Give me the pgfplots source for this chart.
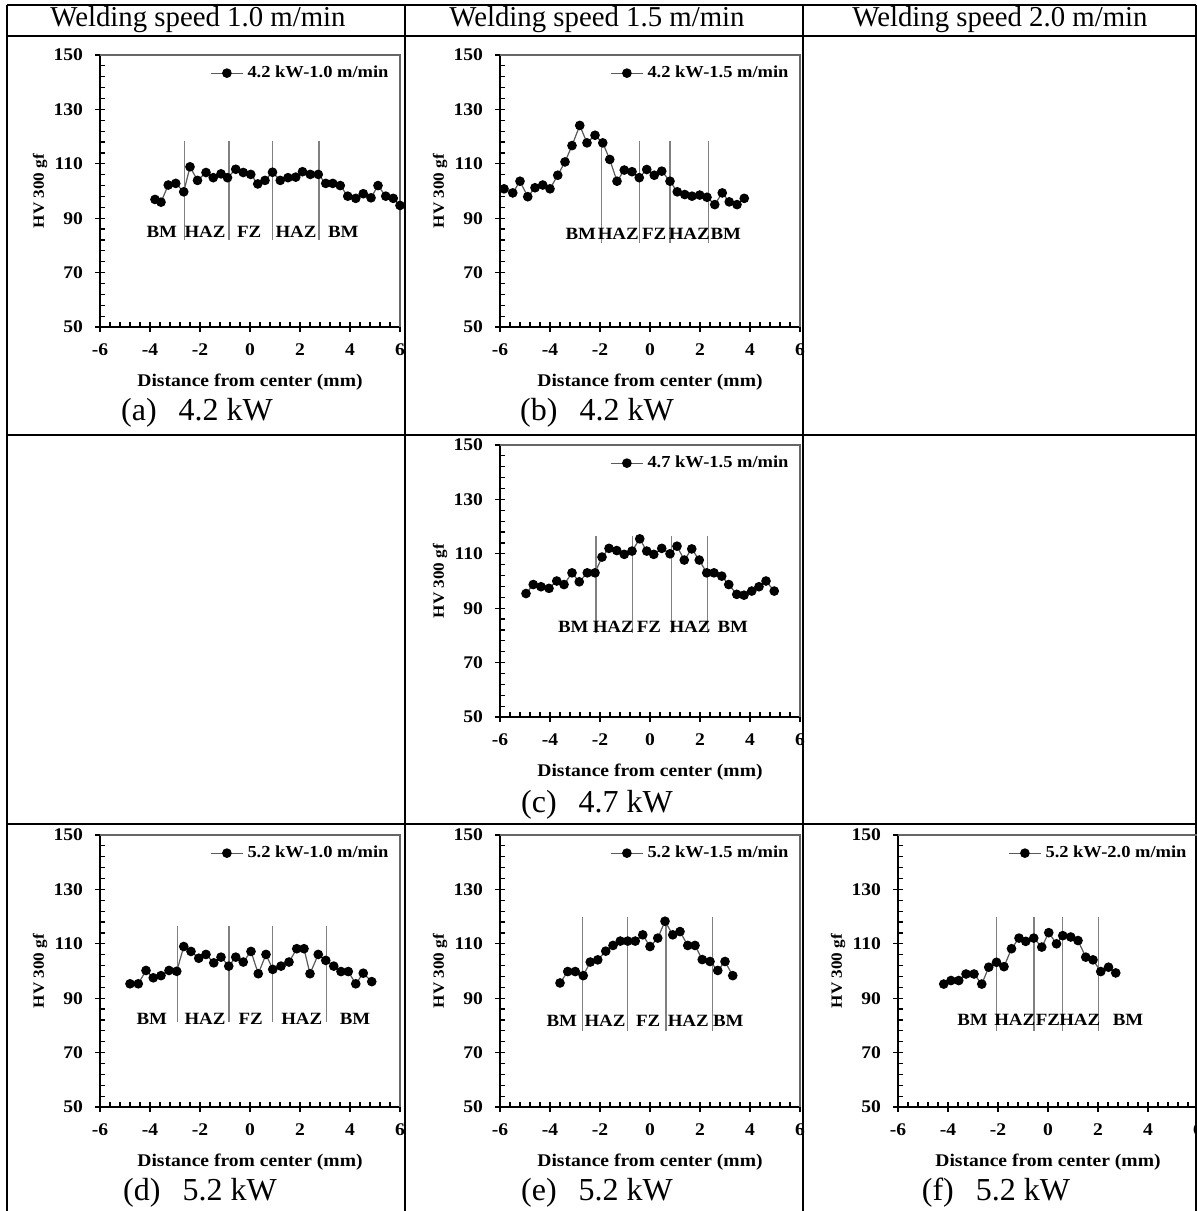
\documentclass[border=0pt]{standalone}
\usepackage{fontspec}
\setmainfont{Liberation Serif}
\newfontfamily\chartfont{Liberation Serif}[FakeStretch=1.1]
\usepackage{pgfplots}
\pgfplotsset{compat=1.18}
\newcommand\tickfont{\chartfont\bfseries\fontsize{8.9}{10}\selectfont}
\newcommand\zonefont{\chartfont\bfseries\fontsize{8.6}{10}\selectfont}
\newcommand\legfont{\chartfont\bfseries\fontsize{8.4}{10}\selectfont}
\pgfplotsset{
  weld/.style={
    scale only axis, width=150pt, height=136pt,
    xmin=-6, xmax=6, ymin=50, ymax=150,
    xtick={-6,-4,...,6}, ytick={50,70,...,150},
    minor x tick num=4, minor y tick num=4,
    axis x line*=bottom, axis y line*=left,
    axis line style={black, line width=1pt, -},
    tick align=inside, major tick length=5pt, minor tick length=2.6pt,
    every tick/.style={black, line width=0.6pt},
    every major x tick/.append style={yshift=-2.5pt},
    every major y tick/.append style={xshift=-2.5pt},
    ticklabel style={font=\tickfont},
    /pgf/number format/assume math mode=true,
    xticklabel style={yshift=-5pt},
    yticklabel style={xshift=-5pt},
    every axis x label/.style={at={(rel axis cs:0.5,0)}, yshift=-27.5pt, anchor=center, font=\tickfont},
    every axis y label/.style={at={(rel axis cs:0,0.5)}, xshift=-30pt, rotate=90, anchor=center, font=\chartfont\bfseries\fontsize{7.8}{9}\selectfont},
    xlabel={Distance from center (mm)}, ylabel={HV 300 gf},
    clip=false,
    legend style={draw=none, fill=none, at={(0.975,0.975)}, anchor=north east, font=\legfont, inner sep=0pt, outer sep=0pt},
    legend image code/.code={\draw[mark repeat=2,mark phase=2,##1] plot coordinates {(0pt,0pt) (8pt,0pt) (16pt,0pt)};},
    anchor=south west,
  },
  hv/.style={color=black!65, line width=0.6pt, mark=*, mark size=2.1pt, mark options={fill=black, draw=black}},
  zone/.style={color=black!50, line width=0.6pt, forget plot},
}
\newcommand\frameTR{\draw[black!60, line width=1pt] (rel axis cs:0,1) -- (rel axis cs:1,1) -- (rel axis cs:1,0);}
\begin{document}
\begin{tikzpicture}
\path[use as bounding box] (0,0) rectangle (598.5pt,-605.5pt);
% table
\begin{scope}[line width=1.2pt]
\draw (3.5pt,-2.5pt) -- (598pt,-2.5pt);
\draw (3.5pt,-18pt) -- (598pt,-18pt);
\draw (3.5pt,-217.5pt) -- (598pt,-217.5pt);
\draw (3.5pt,-412pt) -- (598pt,-412pt);
\draw (3.5pt,-2.5pt) -- (3.5pt,-605.5pt);
\draw (202.5pt,-2.5pt) -- (202.5pt,-605.5pt);
\draw (401.5pt,-2.5pt) -- (401.5pt,-605.5pt);
\draw (598pt,-2.5pt) -- (598pt,-605.5pt);
\end{scope}
\begin{scope}[font=\fontsize{14.4}{16}\selectfont]
\node at (99pt,-10pt) {Welding speed 1.0 m/min};
\node at (298.5pt,-10pt) {Welding speed 1.5 m/min};
\node at (500pt,-10pt) {Welding speed 2.0 m/min};
\end{scope}
\begin{scope}[font=\fontsize{16}{18}\selectfont]
\node at (98.5pt,-206.5pt) {(a)\hspace{11pt}4.2 kW};
\node at (298.5pt,-206.5pt) {(b)\hspace{11pt}4.2 kW};
\node at (298.5pt,-402.5pt) {(c)\hspace{11pt}4.7 kW};
\node at (100pt,-596.5pt) {(d)\hspace{11pt}5.2 kW};
\node at (298.5pt,-596.5pt) {(e)\hspace{11pt}5.2 kW};
\node at (498pt,-596.5pt) {(f)\hspace{11pt}5.2 kW};
\end{scope}

% (a)
\begin{axis}[weld, at={(50pt,-163.5pt)}]
\addplot[hv] coordinates {(-3.8,96.9) (-3.56,95.9) (-3.27,102.2) (-2.97,102.8) (-2.65,99.7) (-2.4,108.9) (-2.1,103.9) (-1.76,106.8) (-1.47,104.9) (-1.16,106.3) (-0.9,104.9) (-0.57,108.0) (-0.27,106.8) (0.03,106.1) (0.31,102.6) (0.6,103.9) (0.9,106.9) (1.21,103.9) (1.52,104.9) (1.83,105.1) (2.1,107.1) (2.41,106.1) (2.73,106.1) (3.03,102.8) (3.31,102.8) (3.61,102.0) (3.91,98.1) (4.23,97.3) (4.53,99.0) (4.84,97.5) (5.12,102.0) (5.43,98.1) (5.73,97.3) (6.0,94.7)};
\addlegendentry{4.2 kW-1.0 m/min}
\addplot[zone] coordinates {(-2.63,82) (-2.63,118.3)};
\addplot[zone] coordinates {(-0.84,82) (-0.84,118.3)};
\addplot[zone] coordinates {(0.9,82) (0.9,118.3)};
\addplot[zone] coordinates {(2.76,82) (2.76,118.3)};
\node[font=\zonefont] at (axis cs:-3.53,85) {BM};
\node[font=\zonefont] at (axis cs:-1.8,85) {HAZ};
\node[font=\zonefont] at (axis cs:-0.03,85) {FZ};
\node[font=\zonefont] at (axis cs:1.84,85) {HAZ};
\node[font=\zonefont] at (axis cs:3.73,85) {BM};
\frameTR
\end{axis}

% (b)
\begin{axis}[weld, at={(250pt,-163.5pt)}]
\addplot[hv] coordinates {(-5.84,100.8) (-5.49,99.3) (-5.2,103.6) (-4.89,97.9) (-4.6,101.2) (-4.29,102.2) (-4.0,100.8) (-3.69,105.8) (-3.4,110.7) (-3.12,116.7) (-2.81,124.1) (-2.52,117.7) (-2.2,120.5) (-1.89,117.7) (-1.61,111.6) (-1.32,103.6) (-1.03,107.7) (-0.72,107.1) (-0.43,104.9) (-0.13,107.9) (0.17,105.8) (0.47,107.3) (0.8,103.6) (1.09,99.7) (1.39,98.7) (1.68,98.1) (1.99,98.5) (2.28,97.7) (2.59,95.0) (2.89,99.3) (3.17,96.0) (3.48,95.0) (3.77,97.3)};
\addlegendentry{4.2 kW-1.5 m/min}
\addplot[zone] coordinates {(-1.93,81) (-1.93,118.3)};
\addplot[zone] coordinates {(-0.41,81) (-0.41,118.3)};
\addplot[zone] coordinates {(0.8,81) (0.8,118.3)};
\addplot[zone] coordinates {(2.33,81) (2.33,118.3)};
\node[font=\zonefont] at (axis cs:-2.77,84.3) {BM};
\node[font=\zonefont] at (axis cs:-1.27,84.3) {HAZ};
\node[font=\zonefont] at (axis cs:0.17,84.3) {FZ};
\node[font=\zonefont] at (axis cs:1.57,84.3) {HAZ};
\node[font=\zonefont] at (axis cs:3.03,84.3) {BM};
\frameTR
\end{axis}

% (c)
\begin{axis}[weld, at={(250pt,-358.5pt)}]
\addplot[hv] coordinates {(-4.96,95.4) (-4.67,98.7) (-4.36,97.9) (-4.04,97.3) (-3.73,100.0) (-3.44,98.7) (-3.12,103.0) (-2.83,99.7) (-2.51,103.0) (-2.2,103.0) (-1.92,108.8) (-1.64,112.0) (-1.33,111.2) (-1.03,109.8) (-0.72,111.0) (-0.41,115.5) (-0.13,111.0) (0.15,109.8) (0.47,112.0) (0.8,110.0) (1.08,112.8) (1.37,107.7) (1.67,111.8) (1.97,107.7) (2.27,103.0) (2.56,103.0) (2.87,101.8) (3.15,98.7) (3.47,95.1) (3.76,94.8) (4.07,96.3) (4.36,97.9) (4.64,100.0) (4.97,96.3)};
\addlegendentry{4.7 kW-1.5 m/min}
\addplot[zone] coordinates {(-2.16,81) (-2.16,116.5)};
\addplot[zone] coordinates {(-0.69,81) (-0.69,116.5)};
\addplot[zone] coordinates {(0.87,81) (0.87,116.5)};
\addplot[zone] coordinates {(2.31,81) (2.31,116.5)};
\node[font=\zonefont] at (axis cs:-3.07,83) {BM};
\node[font=\zonefont] at (axis cs:-1.47,83) {HAZ};
\node[font=\zonefont] at (axis cs:-0.04,83) {FZ};
\node[font=\zonefont] at (axis cs:1.6,83) {HAZ};
\node[font=\zonefont] at (axis cs:3.31,83) {BM};
\frameTR
\end{axis}

% (d)
\begin{axis}[weld, at={(50pt,-553.5pt)}]
\addplot[hv] coordinates {(-4.8,95.3) (-4.47,95.3) (-4.16,100.2) (-3.87,97.5) (-3.56,98.3) (-3.24,100.2) (-2.93,99.9) (-2.65,109.0) (-2.36,107.2) (-2.05,104.7) (-1.76,106.1) (-1.45,103.0) (-1.16,105.1) (-0.85,101.8) (-0.57,105.1) (-0.27,103.3) (0.04,107.2) (0.33,99.0) (0.64,106.1) (0.91,100.6) (1.24,101.8) (1.56,103.3) (1.87,108.2) (2.16,108.2) (2.4,99.0) (2.73,106.1) (3.03,103.9) (3.35,101.8) (3.64,99.8) (3.93,99.8) (4.23,95.3) (4.53,99.2) (4.87,96.1)};
\addlegendentry{5.2 kW-1.0 m/min}
\addplot[zone] coordinates {(-2.91,81.2) (-2.91,116.7)};
\addplot[zone] coordinates {(-0.84,81.2) (-0.84,116.7)};
\addplot[zone] coordinates {(0.91,81.2) (0.91,116.7)};
\addplot[zone] coordinates {(3.07,81.2) (3.07,116.7)};
\node[font=\zonefont] at (axis cs:-3.93,82.4) {BM};
\node[font=\zonefont] at (axis cs:-1.8,82.4) {HAZ};
\node[font=\zonefont] at (axis cs:0.03,82.4) {FZ};
\node[font=\zonefont] at (axis cs:2.07,82.4) {HAZ};
\node[font=\zonefont] at (axis cs:4.2,82.4) {BM};
\frameTR
\end{axis}

% (e)
\begin{axis}[weld, at={(250pt,-553.5pt)}]
\addplot[hv] coordinates {(-3.6,95.6) (-3.29,99.8) (-2.99,99.8) (-2.67,98.3) (-2.39,103.3) (-2.09,104.1) (-1.77,107.3) (-1.48,109.4) (-1.19,111.0) (-0.89,111.0) (-0.59,111.0) (-0.29,113.3) (0.0,109.0) (0.31,112.1) (0.6,118.3) (0.91,113.3) (1.2,114.5) (1.51,109.4) (1.8,109.4) (2.09,104.2) (2.4,103.5) (2.71,100.2) (3.0,103.5) (3.31,98.3)};
\addlegendentry{5.2 kW-1.5 m/min}
\addplot[zone] coordinates {(-2.69,78) (-2.69,119.8)};
\addplot[zone] coordinates {(-0.89,78) (-0.89,119.8)};
\addplot[zone] coordinates {(0.64,78) (0.64,119.8)};
\addplot[zone] coordinates {(2.49,78) (2.49,119.8)};
\node[font=\zonefont] at (axis cs:-3.53,81.8) {BM};
\node[font=\zonefont] at (axis cs:-1.8,81.8) {HAZ};
\node[font=\zonefont] at (axis cs:-0.07,81.8) {FZ};
\node[font=\zonefont] at (axis cs:1.53,81.8) {HAZ};
\node[font=\zonefont] at (axis cs:3.13,81.8) {BM};
\frameTR
\end{axis}

% (f)
\begin{axis}[weld, at={(449pt,-553.5pt)}]
\addplot[hv] coordinates {(-4.17,95.2) (-3.88,96.5) (-3.57,96.5) (-3.28,98.9) (-2.96,98.9) (-2.65,95.2) (-2.37,101.4) (-2.06,103.2) (-1.76,101.6) (-1.46,108.2) (-1.16,112.1) (-0.89,110.9) (-0.57,112.1) (-0.25,108.8) (0.03,114.1) (0.34,110.0) (0.59,113.0) (0.91,112.5) (1.2,111.2) (1.51,105.1) (1.8,104.1) (2.11,99.8) (2.42,101.4) (2.71,99.3)};
\addlegendentry{5.2 kW-2.0 m/min}
\addplot[zone] coordinates {(-2.06,78) (-2.06,119.8)};
\addplot[zone] coordinates {(-0.56,78) (-0.56,119.8)};
\addplot[zone] coordinates {(0.58,78) (0.58,119.8)};
\addplot[zone] coordinates {(2.03,78) (2.03,119.8)};
\node[font=\zonefont] at (axis cs:-3.02,82) {BM};
\node[font=\zonefont] at (axis cs:-1.33,82) {HAZ};
\node[font=\zonefont] at (axis cs:0.0,82) {FZ};
\node[font=\zonefont] at (axis cs:1.27,82) {HAZ};
\node[font=\zonefont] at (axis cs:3.2,82) {BM};
\frameTR
\end{axis}
\end{tikzpicture}
\end{document}
